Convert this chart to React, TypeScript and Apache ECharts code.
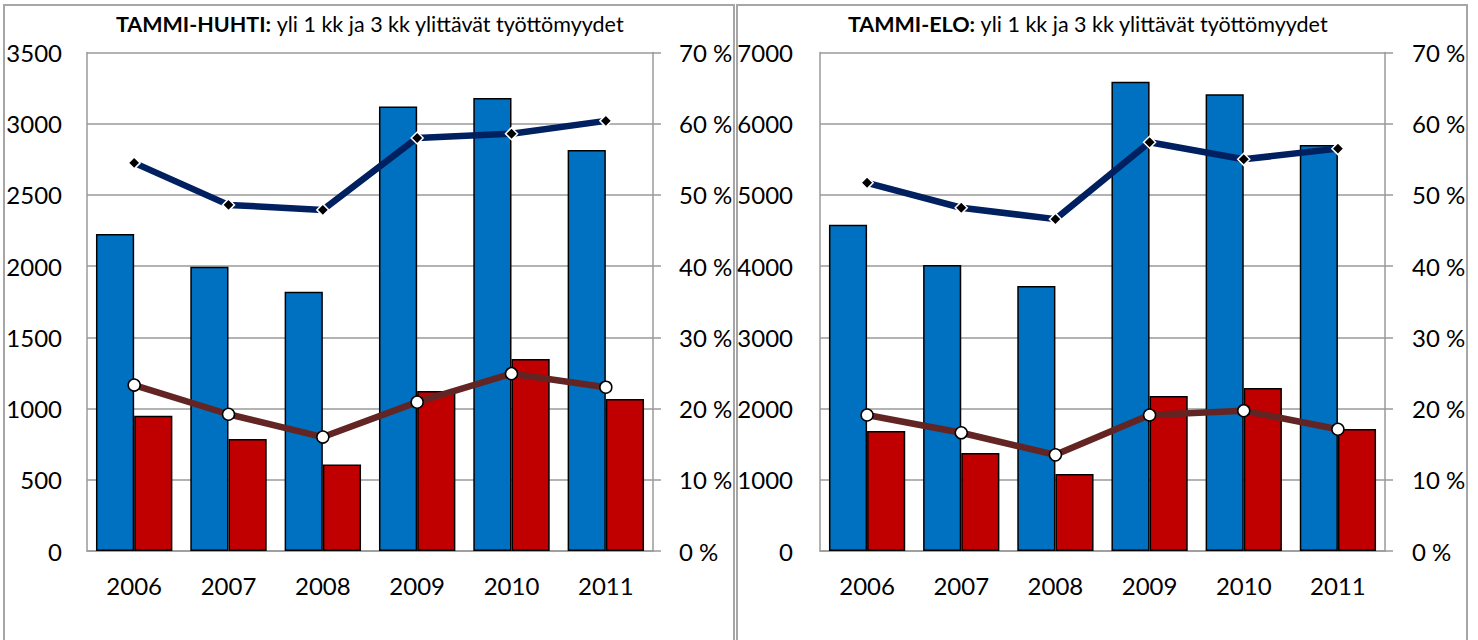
import React, { useEffect, useRef } from "react";
import * as echarts from "echarts";

const years = ["2006", "2007", "2008", "2009", "2010", "2011"];

// TAMMI-HUHTI
const huhtiOver1 = [2225, 1995, 1820, 3120, 3180, 2815];
const huhtiOver3 = [950, 786, 608, 1123, 1348, 1067];
const huhtiShare1 = [54.5, 48.6, 47.9, 58.0, 58.6, 60.4];
const huhtiShare3 = [23.3, 19.2, 16.0, 20.9, 24.9, 23.0];

// TAMMI-ELO
const eloOver1 = [4580, 4015, 3720, 6590, 6415, 5700];
const eloOver3 = [1685, 1376, 1081, 2177, 2289, 1713];
const eloShare1 = [51.7, 48.2, 46.6, 57.4, 55.0, 56.5];
const eloShare3 = [19.1, 16.6, 13.5, 19.1, 19.7, 17.1];

const titleBold = ["TAMMI-HUHTI:", "TAMMI-ELO:"];
const titleRest = " yli 1 kk ja 3 kk ylittävät työttömyydet";

const FONT = "Lato";
const GRAY = "#9a9a9a";
const TICK_FS = 24;
const TITLE_FS = 21.5;

export default function App() {
  const ref = useRef<HTMLDivElement>(null);
  useEffect(() => {
    document.body.style.margin = "0";
    const chart = echarts.init(ref.current!, null, { renderer: "svg" });

    const leftY = (gridIndex: number, max: number, interval: number, margin: number) => ({
      type: "value",
      gridIndex,
      min: 0,
      max,
      interval,
      position: "left",
      axisLine: { show: true, lineStyle: { color: GRAY, width: 1.5 } },
      axisTick: { show: false },
      splitLine: { show: true, lineStyle: { color: GRAY, width: 1.5 } },
      axisLabel: {
        color: "#000",
        fontFamily: FONT,
        fontSize: TICK_FS,
        margin,
        formatter: (v: number) => String(v),
      },
    });
    const rightY = (gridIndex: number, margin: number) => ({
      type: "value",
      gridIndex,
      min: 0,
      max: 70,
      interval: 10,
      position: "right",
      axisLine: { show: true, lineStyle: { color: GRAY, width: 1.5 } },
      axisTick: { show: true, length: 8, lineStyle: { color: GRAY, width: 1.5 } },
      splitLine: { show: false },
      axisLabel: {
        color: "#000",
        fontFamily: FONT,
        fontSize: TICK_FS,
        margin,
        formatter: (v: number) => `${v} %`,
      },
    });
    const xAx = (gridIndex: number) => ({
      type: "category",
      gridIndex,
      data: years,
      axisLine: { show: true, lineStyle: { color: GRAY, width: 1.5 } },
      axisTick: { show: false },
      axisLabel: { color: "#000", fontFamily: FONT, fontSize: TICK_FS, margin: 22 },
    });

    const barS = (name: string, data: number[], color: string, idx: number) => ({
      name,
      type: "bar",
      xAxisIndex: idx,
      yAxisIndex: idx * 2,
      data,
      barGap: "0%",
      barCategoryGap: "19%",
      itemStyle: { color, borderColor: "#000", borderWidth: 1.5 },
      z: 2,
    });
    const lineS = (name: string, data: number[], color: string, idx: number, diamond: boolean) => ({
      name,
      type: "line",
      xAxisIndex: idx,
      yAxisIndex: idx * 2 + 1,
      data,
      symbol: diamond ? "diamond" : "circle",
      symbolSize: diamond ? 12 : 12,
      lineStyle: { color, width: 6.5 },
      itemStyle: diamond
        ? { color: "#000", borderColor: "#fff", borderWidth: 1.5 }
        : { color: "#fff", borderColor: "#000", borderWidth: 1.5 },
      z: 5,
    });

    const titleText = (i: number, x: number) => ({
      type: "text",
      x,
      y: 24,
      style: {
        text: `{b|${titleBold[i]}}${titleRest}`,
        font: `${TITLE_FS}px ${FONT}`,
        fill: "#000",
        align: "center",
        verticalAlign: "middle",
        rich: { b: { fontWeight: "bold", fontFamily: FONT, fontSize: TITLE_FS } },
      },
    });

    chart.setOption({
      animation: false,
      grid: [
        { left: 87, right: 1478 - 653, top: 52.5, bottom: 640 - 551 },
        { left: 820, right: 1478 - 1385, top: 52.5, bottom: 640 - 551 },
      ],
      xAxis: [xAx(0), xAx(1)],
      yAxis: [leftY(0, 3500, 500, 25), rightY(0, 26), leftY(1, 7000, 1000, 27), rightY(1, 27)],
      series: [
        barS("yli 1 kk", huhtiOver1, "#0070C0", 0),
        barS("yli 3 kk", huhtiOver3, "#C00000", 0),
        lineS("yli 1 kk osuus", huhtiShare1, "#002060", 0, true),
        lineS("yli 3 kk osuus", huhtiShare3, "#632523", 0, false),
        barS("yli 1 kk", eloOver1, "#0070C0", 1),
        barS("yli 3 kk", eloOver3, "#C00000", 1),
        lineS("yli 1 kk osuus", eloShare1, "#002060", 1, true),
        lineS("yli 3 kk osuus", eloShare3, "#632523", 1, false),
      ],
      graphic: [
        {
          type: "rect",
          shape: { x: 4, y: 5, width: 730, height: 660 },
          style: { fill: "none", stroke: "#a6a6a6", lineWidth: 2 },
          silent: true,
        },
        {
          type: "rect",
          shape: { x: 737, y: 5, width: 730, height: 660 },
          style: { fill: "none", stroke: "#a6a6a6", lineWidth: 2 },
          silent: true,
        },
        titleText(0, 370),
        titleText(1, 1088),
      ],
    });
    return () => chart.dispose();
  }, []);
  return <div ref={ref} style={{ width: 1478, height: 640 }} />;
}
